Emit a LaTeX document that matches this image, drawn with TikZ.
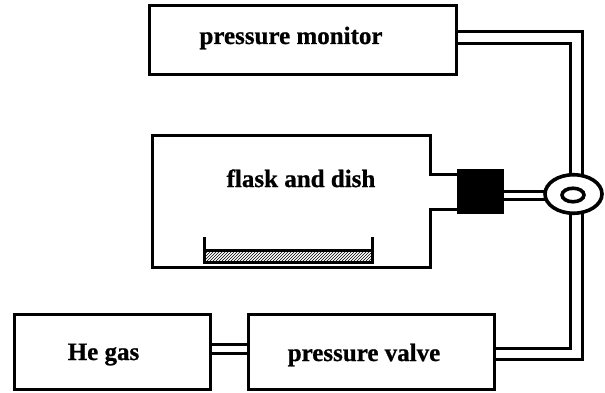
\documentclass[tikz,border=0pt]{standalone}
\usepackage{fontspec}
\setmainfont[BoldFeatures={FakeBold=0.8}]{Liberation Serif}
\usetikzlibrary{patterns,shapes.geometric}
\tikzset{
  x=1pt,y=-1pt,
  boxed/.style={draw=black,line width=3pt,fill=white,rectangle,inner sep=0pt,outer sep=0pt},
  pipe/.style={draw=black,line width=3pt,line join=miter},
  lbl/.style={font=\bfseries\fontsize{25}{28}\selectfont,text=black,inner sep=0pt,anchor=base},
}
\begin{document}
\begin{tikzpicture}
\useasboundingbox (0,0) rectangle (605,393);
% boxes
\node[boxed,minimum width=307pt,minimum height=69pt] (monitor) at (302.5,40.5) {};
\node[boxed,minimum width=246pt,minimum height=75pt] (valve) at (371,351.5) {};
\node[boxed,minimum width=196pt,minimum height=75pt] (he) at (112,351.5) {};
\node[draw=black,fill=black,minimum width=46pt,minimum height=44pt,inner sep=0pt,outer sep=0pt] (trap) at (480.5,191.5) {};
\node[ellipse,draw=black,line width=3.6pt,fill=white,minimum width=57pt,minimum height=38.5pt,inner sep=0pt,outer sep=0pt] (ring) at (573.5,194) {};
\node[ellipse,draw=black,line width=3.6pt,fill=white,minimum width=22pt,minimum height=13.5pt,inner sep=0pt,outer sep=0pt] (hole) at (573,195) {};
% named ends
\coordinate (mA) at (456,32);
\coordinate (mB) at (456,44);
\coordinate (vA) at (494,348);
\coordinate (vB) at (494,359);
\coordinate (rA) at (570,176);
\coordinate (rB) at (582.5,176);
\coordinate (rC) at (570.5,214);
\coordinate (rD) at (582,214);
\coordinate (hA) at (210,344);
\coordinate (hB) at (210,353);
\coordinate (vC) at (248,344);
\coordinate (vD) at (248,353);
\coordinate (tA) at (504,191);
\coordinate (tB) at (504,199);
\coordinate (gA) at (545,191);
\coordinate (gB) at (545,199);
\coordinate (nA) at (458,174);
\coordinate (nB) at (458,209);
% double pipes
\draw[pipe] (mA) -- (rB |- mA) -- (rB);
\draw[pipe] (mB) -- (rA |- mB) -- (rA);
\draw[pipe] (vA) -- (rC |- vA) -- (rC);
\draw[pipe] (vB) -- (rD |- vB) -- (rD);
\draw[pipe] (hA) -- (vC);
\draw[pipe] (hB) -- (vD);
\draw[pipe] (tA) -- (gA);
\draw[pipe] (tB) -- (gB);
% flask
\draw[pipe] (nA) -- (430,174) -- (430,136) -- (152,136) -- (152,267) -- (430,267) -- (430,209) -- (nB);
% dish
\path[pattern=north east lines,pattern color=black] (204,250) rectangle (372,262);
\draw[black,line width=3pt,line join=miter] (204,237) -- (204,262) -- (372,262) -- (372,237);
\draw[black,line width=3.4pt] (204,250.5) -- (372,250.5);
% labels
\node[lbl] at (291,44) {pressure monitor};
\node[lbl] at (301,187) {flask and dish};
\node[lbl] at (103.5,360) {He gas};
\node[lbl] at (364,361) {pressure valve};
\end{tikzpicture}
\end{document}
